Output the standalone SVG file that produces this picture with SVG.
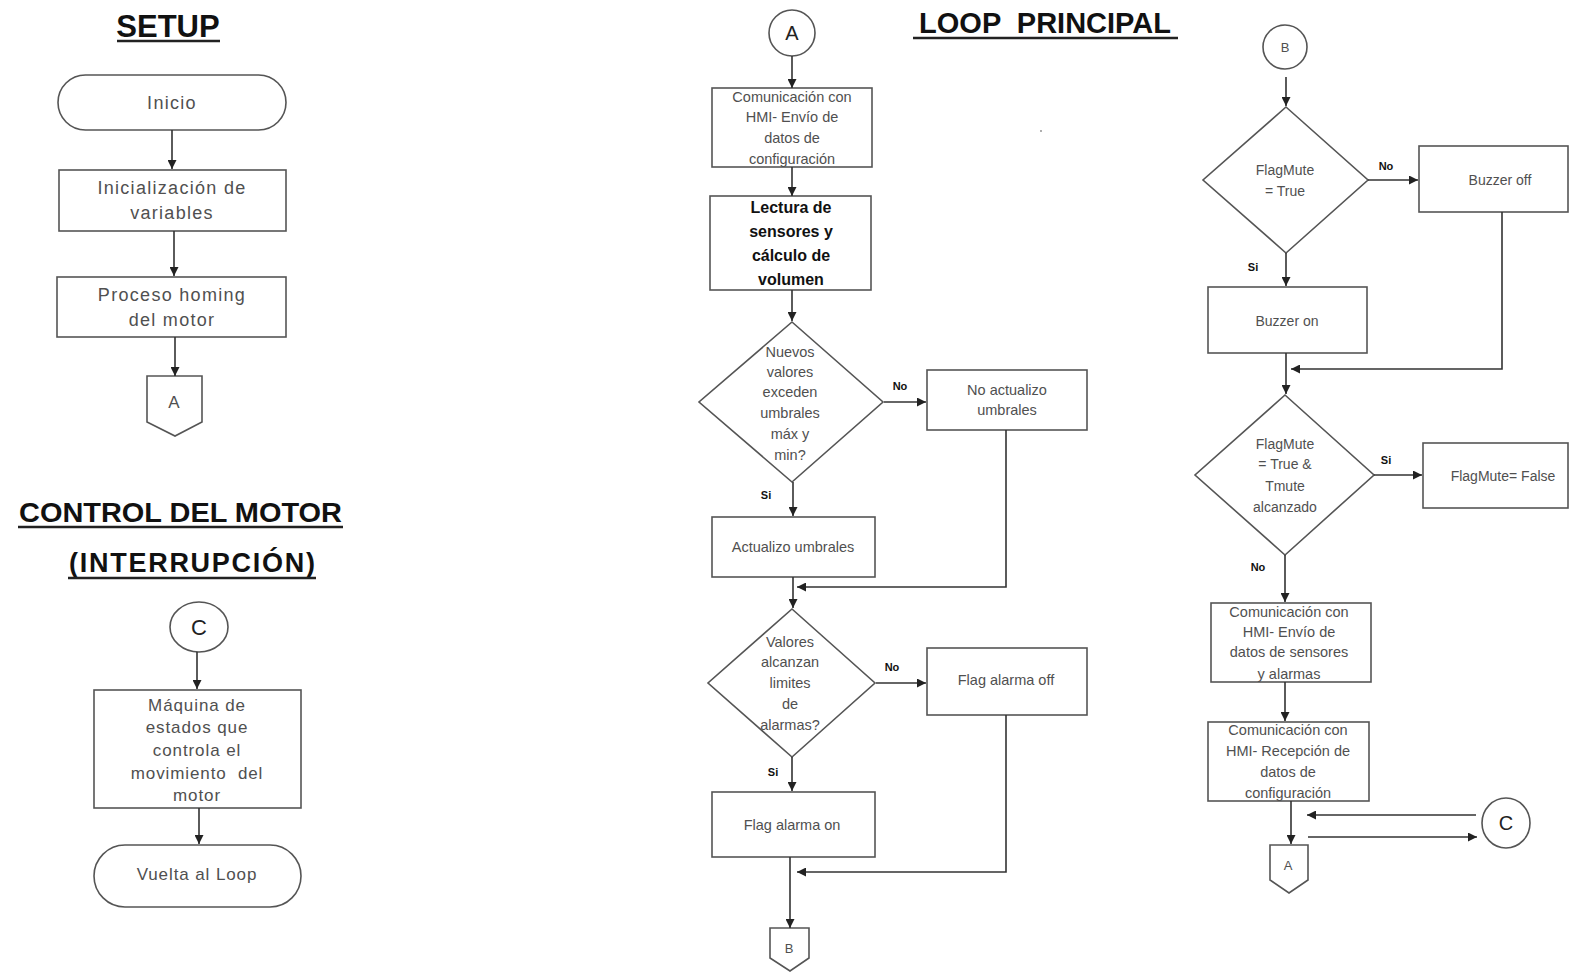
<svg xmlns="http://www.w3.org/2000/svg" width="1570" height="973" viewBox="0 0 1570 973">
<defs>
<marker id="ah" viewBox="0 0 10 10" refX="10" refY="5" markerWidth="9" markerHeight="9" markerUnits="userSpaceOnUse" orient="auto"><path d="M0,0 L10,5 L0,10 z" fill="#222"/></marker>
<style>
.s{fill:#fff;stroke:#555;stroke-width:1.6}
.t{font-family:"Liberation Sans",Arial,sans-serif;fill:#505050;text-anchor:middle}
.big{font-size:18px;letter-spacing:1.3px}
.mid{font-size:17px;letter-spacing:0.9px}
.sm{font-size:14.5px}
.ttl{font-family:"Liberation Sans",Arial,sans-serif;font-weight:bold;fill:#111;text-anchor:middle}
.lbl{font-family:"Liberation Sans",Arial,sans-serif;font-weight:bold;font-size:11px;fill:#111;text-anchor:middle}
.c line,.c polyline{stroke:#333;stroke-width:1.6;fill:none}
.ul{stroke:#222;stroke-width:2.5}
</style>
</defs>
<rect width="1570" height="973" fill="#fff"/>

<!-- Titles -->
<g id="titles">
<text class="ttl" x="168" y="37" font-size="31">SETUP</text>
<line class="ul" x1="117" y1="41" x2="220" y2="41"/>
<text class="ttl" x="180.5" y="522" font-size="27" textLength="323" lengthAdjust="spacingAndGlyphs">CONTROL DEL MOTOR</text>
<line class="ul" x1="18" y1="527" x2="343" y2="527"/>
<text class="ttl" x="192" y="572" font-size="27" textLength="246">(INTERRUPCIÓN)</text>
<line class="ul" x1="68" y1="578" x2="316" y2="578"/>
<text class="ttl" x="1045" y="33" font-size="29" xml:space="preserve">LOOP  PRINCIPAL</text>
<line class="ul" x1="913" y1="38" x2="1178" y2="38"/>
<circle cx="1041" cy="131" r="0.9" fill="#888"/>
</g>

<!-- SETUP -->
<g id="inicio"><rect class="s" x="58" y="75" width="228" height="55" rx="27.5"/><text class="t big" x="172" y="109">Inicio</text></g>
<g id="initvars"><rect class="s" x="59" y="170" width="227" height="61"/><text class="t big" x="172" y="194">Inicialización de</text><text class="t big" x="172" y="219">variables</text></g>
<g id="homing"><rect class="s" x="57" y="277" width="229" height="60"/><text class="t big" x="172" y="301">Proceso homing</text><text class="t big" x="172" y="326">del motor</text></g>
<g id="offA1"><polygon class="s" points="147,376 202,376 202,422 175,436 147,422"/><text class="t" x="174" y="408" font-size="17">A</text></g>

<!-- CONTROL DEL MOTOR -->
<g id="circC1"><ellipse class="s" cx="199" cy="627" rx="29" ry="25"/><text class="t" x="199" y="635" font-size="22" style="fill:#222">C</text></g>
<g id="maquina"><rect class="s" x="94" y="690" width="207" height="118"/>
<text class="t mid" x="197" y="711">Máquina de</text><text class="t mid" x="197" y="733">estados que</text><text class="t mid" x="197" y="756">controla el</text><text class="t mid" x="197" y="779" xml:space="preserve">movimiento  del</text><text class="t mid" x="197" y="801">motor</text></g>
<g id="vuelta"><rect class="s" x="94" y="845" width="207" height="62" rx="31"/><text class="t mid" x="197" y="880">Vuelta al Loop</text></g>

<!-- LOOP column 1 -->
<g id="circA"><circle class="s" cx="792" cy="33" r="23"/><text class="t" x="792" y="40" font-size="20" style="fill:#222">A</text></g>
<g id="comConf"><rect class="s" x="712" y="88" width="160" height="79"/>
<text class="t sm" x="792" y="102">Comunicación con</text><text class="t sm" x="792" y="122">HMI- Envío de</text><text class="t sm" x="792" y="143">datos de</text><text class="t sm" x="792" y="164">configuración</text></g>
<g id="lectura"><rect class="s" x="710" y="196" width="161" height="94"/>
<text class="t" x="791" y="213" font-size="16" font-weight="bold" style="fill:#111">Lectura de</text><text class="t" x="791" y="237" font-size="16" font-weight="bold" style="fill:#111">sensores y</text><text class="t" x="791" y="261" font-size="16" font-weight="bold" style="fill:#111">cálculo de</text><text class="t" x="791" y="285" font-size="16" font-weight="bold" style="fill:#111">volumen</text></g>
<g id="dec1"><polygon class="s" points="792,322 883,402 792,482 699,402"/>
<text class="t sm" x="790" y="357">Nuevos</text><text class="t sm" x="790" y="377">valores</text><text class="t sm" x="790" y="397">exceden</text><text class="t sm" x="790" y="418">umbrales</text><text class="t sm" x="790" y="439">máx y</text><text class="t sm" x="790" y="460">min?</text></g>
<g id="noAct"><rect class="s" x="927" y="370" width="160" height="60"/><text class="t sm" x="1007" y="395">No actualizo</text><text class="t sm" x="1007" y="415">umbrales</text></g>
<g id="act"><rect class="s" x="712" y="517" width="163" height="60"/><text class="t sm" x="793" y="552">Actualizo umbrales</text></g>
<g id="dec2"><polygon class="s" points="792,609 875,683 792,757 708,683"/>
<text class="t sm" x="790" y="647">Valores</text><text class="t sm" x="790" y="667">alcanzan</text><text class="t sm" x="790" y="688">limites</text><text class="t sm" x="790" y="709">de</text><text class="t sm" x="790" y="730">alarmas?</text></g>
<g id="flagOff"><rect class="s" x="927" y="648" width="160" height="67"/><text class="t sm" x="1006" y="685">Flag alarma off</text></g>
<g id="flagOn"><rect class="s" x="712" y="792" width="163" height="65"/><text class="t sm" x="792" y="830">Flag alarma on</text></g>
<g id="offB"><polygon class="s" points="770,928 809,928 809,958 790,971 770,958"/><text class="t" x="789" y="953" font-size="13">B</text></g>

<!-- LOOP column 2 -->
<g id="circB"><circle class="s" cx="1285" cy="47" r="22"/><text class="t" x="1285" y="52" font-size="13">B</text></g>
<g id="dec3"><polygon class="s" points="1286,107 1368,180 1286,253 1203,180"/><text class="t" x="1285" y="175" font-size="14">FlagMute</text><text class="t" x="1285" y="196" font-size="14">= True</text></g>
<g id="buzOff"><rect class="s" x="1419" y="146" width="149" height="66"/><text class="t" x="1500" y="185" font-size="14">Buzzer off</text></g>
<g id="buzOn"><rect class="s" x="1208" y="287" width="159" height="66"/><text class="t" x="1287" y="326" font-size="14">Buzzer on</text></g>
<g id="dec4"><polygon class="s" points="1285,395 1374,475 1285,555 1195,475"/>
<text class="t" x="1285" y="449" font-size="14">FlagMute</text><text class="t" x="1285" y="469" font-size="14">= True &amp;</text><text class="t" x="1285" y="491" font-size="14">Tmute</text><text class="t" x="1285" y="512" font-size="14">alcanzado</text></g>
<g id="muteFalse"><rect class="s" x="1423" y="443" width="145" height="65"/><text class="t" x="1503" y="481" font-size="14">FlagMute= False</text></g>
<g id="comSens"><rect class="s" x="1211" y="603" width="160" height="79"/>
<text class="t sm" x="1289" y="617">Comunicación con</text><text class="t sm" x="1289" y="637">HMI- Envío de</text><text class="t sm" x="1289" y="657">datos de sensores</text><text class="t sm" x="1289" y="679">y alarmas</text></g>
<g id="comRec"><rect class="s" x="1208" y="722" width="161" height="79"/>
<text class="t sm" x="1288" y="735">Comunicación con</text><text class="t sm" x="1288" y="756">HMI- Recepción de</text><text class="t sm" x="1288" y="777">datos de</text><text class="t sm" x="1288" y="798">configuración</text></g>
<g id="offA2"><polygon class="s" points="1270,845 1308,845 1308,880 1289,893 1270,880"/><text class="t" x="1288" y="870" font-size="13">A</text></g>
<g id="circC2"><ellipse class="s" cx="1506" cy="823" rx="24" ry="25"/><text class="t" x="1506" y="830" font-size="20" style="fill:#222">C</text></g>

<!-- Connectors -->
<g id="connectors" class="c">
<line x1="172" y1="130" x2="172" y2="169" marker-end="url(#ah)"/>
<line x1="174" y1="231" x2="174" y2="276" marker-end="url(#ah)"/>
<line x1="175" y1="337" x2="175" y2="376" marker-end="url(#ah)"/>
<line x1="197" y1="652" x2="197" y2="689" marker-end="url(#ah)"/>
<line x1="199" y1="808" x2="199" y2="844" marker-end="url(#ah)"/>

<line x1="792" y1="56" x2="792" y2="88" marker-end="url(#ah)"/>
<line x1="792" y1="167" x2="792" y2="196" marker-end="url(#ah)"/>
<line x1="792" y1="290" x2="792" y2="321" marker-end="url(#ah)"/>
<line x1="884" y1="402" x2="926" y2="402" marker-end="url(#ah)"/>
<line x1="793" y1="482" x2="793" y2="516" marker-end="url(#ah)"/>
<polyline points="1006,430 1006,587 797,587" marker-end="url(#ah)"/>
<line x1="793" y1="577" x2="793" y2="608" marker-end="url(#ah)"/>
<line x1="876" y1="683" x2="926" y2="683" marker-end="url(#ah)"/>
<line x1="792" y1="757" x2="792" y2="791" marker-end="url(#ah)"/>
<polyline points="1006,715 1006,872 797,872" marker-end="url(#ah)"/>
<line x1="790" y1="857" x2="790" y2="928" marker-end="url(#ah)"/>

<line x1="1286" y1="77" x2="1286" y2="106" marker-end="url(#ah)"/>
<line x1="1368" y1="180" x2="1418" y2="180" marker-end="url(#ah)"/>
<line x1="1286" y1="253" x2="1286" y2="286" marker-end="url(#ah)"/>
<polyline points="1502,212 1502,369 1291,369" marker-end="url(#ah)"/>
<line x1="1286" y1="353" x2="1286" y2="394" marker-end="url(#ah)"/>
<line x1="1374" y1="475" x2="1422" y2="475" marker-end="url(#ah)"/>
<line x1="1285" y1="555" x2="1285" y2="602" marker-end="url(#ah)"/>
<line x1="1285" y1="682" x2="1285" y2="721" marker-end="url(#ah)"/>
<line x1="1291" y1="801" x2="1291" y2="844" marker-end="url(#ah)"/>
<line x1="1476" y1="815" x2="1307" y2="815" marker-end="url(#ah)"/>
<line x1="1308" y1="837" x2="1477" y2="837" marker-end="url(#ah)"/>
</g>

<!-- Branch labels -->
<g id="labels">
<text class="lbl" x="900" y="390">No</text>
<text class="lbl" x="766" y="499">Si</text>
<text class="lbl" x="892" y="671">No</text>
<text class="lbl" x="773" y="776">Si</text>
<text class="lbl" x="1386" y="170">No</text>
<text class="lbl" x="1253" y="271">Si</text>
<text class="lbl" x="1386" y="464">Si</text>
<text class="lbl" x="1258" y="571">No</text>
</g>
</svg>
